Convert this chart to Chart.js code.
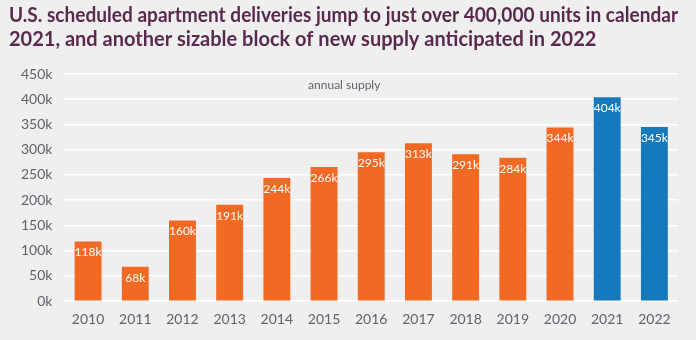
<!DOCTYPE html>
<html>
<head>
<meta charset="utf-8">
<script src="https://cdn.jsdelivr.net/npm/chart.js@4"></script>
<style>
  html, body { margin: 0; padding: 0; background: #efefef; }
  #wrap { width: 696px; height: 340px; }
</style>
</head>
<body>
<div id="wrap"><canvas id="myChart"></canvas></div>
<script>
// datos del grafico
const years = ['2010', '2011', '2012', '2013', '2014', '2015', '2016', '2017', '2018', '2019', '2020', '2021', '2022'];
const supply = [118000, 68000, 160000, 191000, 244000, 266000, 295000, 313000, 291000, 284000, 344000, 404000, 345000];
const barColors = ['#f26924', '#f26924', '#f26924', '#f26924', '#f26924', '#f26924', '#f26924', '#f26924', '#f26924', '#f26924', '#f26924', '#1579be', '#1579be'];
const titleLines = ['U.S. scheduled apartment deliveries jump to just over 400,000 units in calendar', '2021, and another sizable block of new supply anticipated in 2022'];
const seriesName = 'annual supply';

// etiquetas blancas dentro de cada barra
const barLabels = {
  id: 'barLabels',
  afterDatasetsDraw(chart) {
    const ctx = chart.ctx;
    const meta = chart.getDatasetMeta(0);
    ctx.save();
    ctx.font = '12px Lato';
    ctx.fillStyle = '#ffffff';
    ctx.textAlign = 'center';
    ctx.textBaseline = 'middle';
    meta.data.forEach((bar, i) => {
      ctx.fillText(Math.round(supply[i] / 1000) + 'k', bar.x, bar.y + 11);
    });
    // nombre de la serie arriba
    const area = chart.chartArea;
    ctx.font = '12px Lato';
    ctx.fillStyle = '#5f6370';
    ctx.fillText(seriesName, (area.left + area.right) / 2 - 27, area.top + 11);
    ctx.restore();
  }
};

const ctx = document.getElementById('myChart').getContext('2d');
const myChart = new Chart(ctx, {
  type: 'bar',
  data: {
    labels: years,
    datasets: [{
      label: seriesName,
      data: supply,
      backgroundColor: barColors,
      categoryPercentage: 1,
      barPercentage: 0.57
    }]
  },
  options: {
    responsive: true,
    maintainAspectRatio: false,
    animation: false,
    layout: { padding: { left: 9, right: 18, top: 4, bottom: 2 } },
    plugins: {
      legend: { display: false },
      tooltip: { enabled: false },
      title: {
        display: true,
        text: titleLines,
        align: 'start',
        color: '#5a2a4e',
        font: { family: 'Lato', size: 20, weight: 'bold', lineHeight: 1.2 },
        padding: { top: 0, bottom: 22 }
      }
    },
    scales: {
      x: {
        grid: { display: false, drawTicks: false },
        border: { display: false },
        ticks: { color: '#5f6370', font: { family: 'Lato', size: 14 }, padding: 10 }
      },
      y: {
        min: 0,
        max: 450000,
        grid: { color: '#ffffff', lineWidth: 1.5, drawTicks: false },
        border: { display: false },
        ticks: {
          stepSize: 50000,
          color: '#5f6370',
          font: { family: 'Lato', size: 14 },
          padding: 12,
          callback: (v) => (v / 1000) + 'k'
        }
      }
    }
  },
  plugins: [barLabels]
});
</script>
</body>
</html>
